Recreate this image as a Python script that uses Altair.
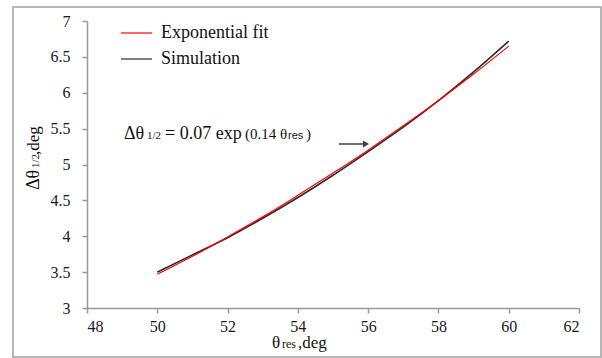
import altair as alt
import pandas as pd

# ---- data ----
theta_res = [50, 51, 52, 53, 54, 55, 56, 57, 58, 59, 60]
simulation = [3.50, 3.74, 3.98, 4.25, 4.54, 4.85, 5.18, 5.52, 5.89, 6.29, 6.72]
exp_fit = [3.47, 3.72, 3.99, 4.27, 4.57, 4.88, 5.20, 5.54, 5.89, 6.26, 6.65]

series_names = ["Exponential fit", "Simulation"]
series_colors = ["#ff0000", "#2b2b2b"]
x_ticks = [48, 50, 52, 54, 56, 58, 60, 62]
y_ticks = [3, 3.5, 4, 4.5, 5, 5.5, 6, 6.5, 7]

SERIF = "Liberation Serif"
SANS = "Liberation Sans"
NBSP = "\u00a0"

W, H = 492, 287
PAD_L, PAD_T = 87, 21

df_sim = pd.DataFrame({"theta": theta_res, "value": simulation, "series": "Simulation"})
df_fit = pd.DataFrame({"theta": theta_res, "value": exp_fit, "series": "Exponential fit"})

color_scale = alt.Scale(domain=series_names, range=series_colors)

x_enc = alt.X(
    "theta:Q",
    scale=alt.Scale(domain=[48, 62], nice=False),
    axis=alt.Axis(values=x_ticks, title=None, format="~g", labelPadding=5),
)
y_enc = alt.Y(
    "value:Q",
    scale=alt.Scale(domain=[3, 7], nice=False, zero=False),
    axis=alt.Axis(values=y_ticks, title=None, format="~g", labelPadding=12),
)

sim_line = alt.Chart(df_sim).mark_line(strokeWidth=1.6, interpolate="monotone").encode(
    x=x_enc, y=y_enc, color=alt.Color("series:N", scale=color_scale, legend=None)
)
fit_line = alt.Chart(df_fit).mark_line(strokeWidth=1.2, interpolate="monotone").encode(
    x=x_enc, y=y_enc, color=alt.Color("series:N", scale=color_scale, legend=None)
)

one = pd.DataFrame({"k": [0]})


def txt(s, ax, ay, size, font=SERIF, angle=0, color="#111111"):
    """Decoration text placed at absolute page pixel (ax, ay) = left/baseline."""
    kw = dict(align="left", baseline="alphabetic", font=font, fontSize=size, color=color)
    if angle:
        kw["angle"] = angle
    return alt.Chart(one).mark_text(**kw).encode(
        x=alt.value(ax - PAD_L), y=alt.value(ay - PAD_T), text=alt.value(s)
    )


layers = []

# outer frame
layers.append(
    alt.Chart(one).mark_rect(fill="white", fillOpacity=0, stroke="#a0a0a0", strokeWidth=1.5).encode(
        x=alt.value(13 - PAD_L), x2=alt.value(601 - PAD_L),
        y=alt.value(7 - PAD_T), y2=alt.value(357 - PAD_T),
    )
)

layers += [sim_line, fit_line]

# legend (manual, using the same colour scale)
leg_rows = [33, 59]
for name, ypx in zip(series_names, leg_rows):
    layers.append(
        alt.Chart(pd.DataFrame({"series": [name]})).mark_rule(strokeWidth=1.2).encode(
            x=alt.value(121 - PAD_L), x2=alt.value(152 - PAD_L), y=alt.value(ypx - PAD_T),
            color=alt.Color("series:N", scale=color_scale, legend=None),
        )
    )
    layers.append(txt(name, 161, ypx + 5, 18))

# equation annotation
layers += [
    txt("Δθ", 124, 139, 18),
    txt("1/2", 147, 139, 11),
    txt("= 0.07 exp", 165, 139, 18),
    txt("(0.14 θ", 245, 139, 15),
    txt("res", 288, 139, 11, font=SANS),
    txt(")", 306, 139, 15),
]

# arrow
layers.append(
    alt.Chart(one).mark_rule(color="#404040", strokeWidth=1.5).encode(
        x=alt.value(339 - PAD_L), x2=alt.value(364 - PAD_L), y=alt.value(144 - PAD_T)
    )
)
layers.append(
    alt.Chart(one).mark_point(shape="triangle-right", filled=True, color="#404040", size=50, opacity=1).encode(
        x=alt.value(366 - PAD_L), y=alt.value(144 - PAD_T)
    )
)

# x axis title  θres ,deg
layers += [
    txt("θ", 272, 348, 17),
    txt("res", 282, 348, 12),
    txt(NBSP + ",deg", 298, 348, 17),
]

# y axis title  Δθ1/2 ,deg  (rotated)
layers += [
    txt("Δθ", 39, 190, 18, angle=270),
    txt("1/2", 39, 168, 11, angle=270),
    txt(NBSP + ",deg", 39, 155, 17, angle=270),
]

chart = (
    alt.layer(*layers)
    .properties(
        width=W,
        height=H,
        autosize=alt.AutoSizeParams(type="none"),
        padding={"left": PAD_L, "top": PAD_T, "right": 602 - PAD_L - W, "bottom": 358 - PAD_T - H},
        background="white",
    )
    .configure_view(strokeWidth=0)
    .configure_axis(
        grid=False,
        domainColor="#999999",
        domainWidth=1.5,
        tickColor="#999999",
        tickWidth=1.5,
        tickSize=5,
        labelFont=SERIF,
        labelFontSize=16,
        labelColor="#1a1a1a",
    )
)

chart.save("out.html", embed_options={"renderer": "svg", "actions": False})
